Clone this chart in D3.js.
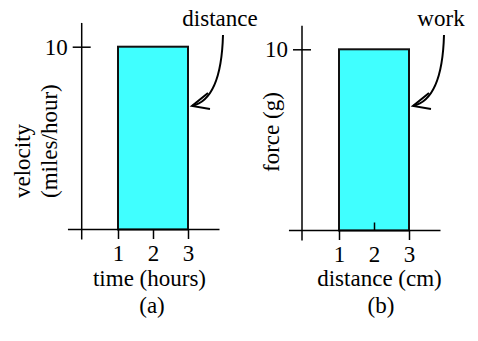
<!DOCTYPE html>
<html>
<head>
<meta charset="utf-8">
<script src="https://cdn.jsdelivr.net/npm/d3@7/dist/d3.min.js"></script>
<style>
  html, body { margin: 0; padding: 0; background: #fff; }
  svg { display: block; }
  text { font-family: "Liberation Serif", "Times New Roman", serif; font-size: 23px; fill: #000; }
</style>
</head>
<body>
<svg id="chart" width="478" height="341"></svg>
<script>
// Data for the two panels
const panelNames = ["(a)", "(b)"];
const xTickValues = [1, 2, 3];
const yTickValues = [10];
const barFrom = [1, 1];
const barTo = [3, 3];
const barValue = [10, 10];
const xTitles = ["time (hours)", "distance (cm)"];
const yTitles = [["velocity", "(miles/hour)"], ["force (g)"]];
const areaNames = ["distance", "work"];

// Layout of each panel (pixels)
const layout = [
  { x0: 83, y0: 229.5, yTop: 46.7, yAxisX: 81.7, xTitleX: 149.5, nameX: 152,
    yTitleX: [30, 57], yTitleStart: 198, tickUp: [] },
  { x0: 304, y0: 230.5, yTop: 49.3, yAxisX: 302, xTitleX: 379.5, nameX: 381,
    yTitleX: [279], yTitleStart: 172, tickUp: [2] }
];
const unit = 35;

const svg = d3.select("#chart");

panelNames.forEach((name, i) => {
  const L = layout[i];
  const x = d3.scaleLinear().domain([0, 3]).range([L.x0, L.x0 + 3 * unit]);
  const y = d3.scaleLinear().domain([0, 10]).range([L.y0, L.yTop]);
  const g = svg.append("g");

  // bar (area under the curve)
  g.append("rect")
    .attr("x", x(barFrom[i]))
    .attr("y", y(barValue[i]))
    .attr("width", x(barTo[i]) - x(barFrom[i]))
    .attr("height", y(0) - y(barValue[i]))
    .attr("fill", "#40ffff")
    .attr("stroke", "#111")
    .attr("stroke-width", 2);

  // horizontal axis line
  g.append("line")
    .attr("x1", x(-0.43)).attr("x2", x(3.9))
    .attr("y1", y(0)).attr("y2", y(0))
    .attr("stroke", "#000").attr("stroke-width", 1.5);

  // vertical axis line
  g.append("line")
    .attr("x1", L.yAxisX).attr("x2", L.yAxisX)
    .attr("y1", y(11.3)).attr("y2", y(0) + 10)
    .attr("stroke", "#000").attr("stroke-width", 1.5);

  // x ticks and labels
  const xAxis = d3.axisBottom(x).tickValues(xTickValues).tickSize(9).tickFormat(d3.format("d"));
  const ax = g.append("g").attr("transform", `translate(0,${y(0)})`).call(xAxis);
  ax.select(".domain").remove();
  ax.selectAll(".tick line")
    .attr("stroke", "#000").attr("stroke-width", 1.5)
    .attr("y2", d => L.tickUp.includes(d) ? -8 : 9.5);
  ax.selectAll(".tick text")
    .attr("y", 31.5).attr("dy", null)
    .style("font-family", "Liberation Serif").style("font-size", "23px").attr("fill", "#000");

  // y ticks and labels
  const yAxis = d3.axisLeft(y).tickValues(yTickValues).tickSize(9).tickFormat(d3.format("d"));
  const ay = g.append("g").attr("transform", `translate(${L.yAxisX},0)`).call(yAxis);
  ay.select(".domain").remove();
  ay.selectAll(".tick line")
    .attr("x2", 9).attr("x1", -9)
    .attr("stroke", "#000").attr("stroke-width", 1.5);
  ay.selectAll(".tick text")
    .attr("x", -14).attr("dy", "0.33em")
    .style("font-family", "Liberation Serif").style("font-size", "23px").attr("fill", "#000");

  // axis titles
  g.append("text")
    .attr("x", L.xTitleX).attr("y", 286)
    .attr("text-anchor", "middle")
    .text(xTitles[i]);
  g.append("text")
    .attr("x", L.nameX).attr("y", 313)
    .attr("text-anchor", "middle")
    .text(name);
  yTitles[i].forEach((t, k) => {
    g.append("text")
      .attr("transform", `translate(${L.yTitleX[k]},${L.yTitleStart}) rotate(-90)`)
      .attr("text-anchor", "start")
      .text(t);
  });

  // callout label with a curved arrow pointing at the bar
  const cx = x(barTo[i]);
  g.append("text")
    .attr("x", cx + 32).attr("y", 26)
    .attr("text-anchor", "middle")
    .text(areaNames[i]);

  const tip = [cx + 4, 106];
  const p = d3.path();
  p.moveTo(cx + 35, 35);
  p.bezierCurveTo(cx + 34, 72, cx + 26, 101, tip[0], tip[1]);
  g.append("path")
    .attr("d", p.toString())
    .attr("fill", "none").attr("stroke", "#000").attr("stroke-width", 2);
  const head = d3.path();
  head.moveTo(tip[0] + 16, tip[1] - 13);
  head.lineTo(tip[0], tip[1]);
  head.lineTo(tip[0] + 18, tip[1] + 3);
  g.append("path")
    .attr("d", head.toString())
    .attr("fill", "none").attr("stroke", "#000").attr("stroke-width", 2)
    .attr("stroke-linejoin", "miter");
});
</script>
</body>
</html>
